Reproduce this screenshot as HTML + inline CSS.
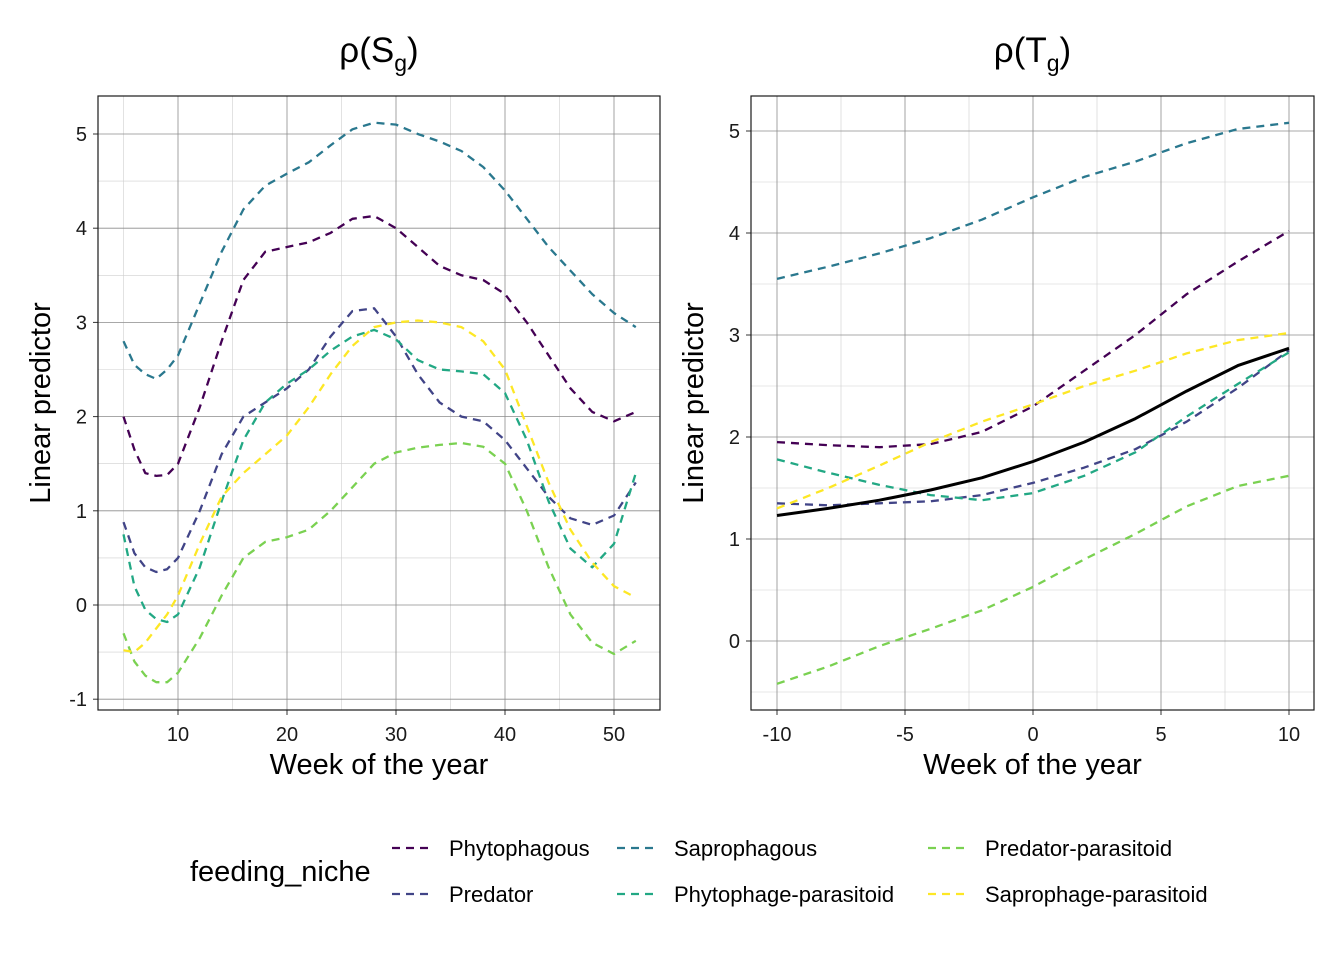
<!DOCTYPE html>
<html><head><meta charset="utf-8"><style>
html,body{margin:0;padding:0;background:#fff;}
svg{display:block;font-family:"Liberation Sans",Arial,sans-serif;}
</style></head><body>
<svg id="chart" width="1344" height="960" viewBox="0 0 1344 960"></svg>
<script>
// ---- data ----
const weeksL = [5,6,7,8,9,10,12,14,16,18,20,22,24,26,28,30,32,34,36,38,40,42,44,46,48,50,52];
const phytoL = [2.0,1.65,1.4,1.37,1.38,1.5,2.1,2.8,3.45,3.75,3.8,3.85,3.95,4.1,4.13,4.0,3.8,3.6,3.5,3.45,3.3,3.0,2.65,2.3,2.05,1.95,2.05];
const predL = [0.88,0.55,0.4,0.35,0.38,0.5,1.0,1.6,2.0,2.15,2.3,2.5,2.85,3.12,3.15,2.85,2.45,2.15,2.0,1.95,1.75,1.45,1.15,0.92,0.85,0.95,1.3];
const saproL = [2.8,2.55,2.45,2.4,2.5,2.65,3.2,3.75,4.2,4.45,4.58,4.7,4.88,5.05,5.12,5.1,5.0,4.92,4.82,4.65,4.4,4.1,3.8,3.55,3.3,3.1,2.95];
const phyParL = [0.75,0.2,-0.05,-0.15,-0.18,-0.1,0.4,1.1,1.75,2.15,2.35,2.5,2.7,2.85,2.92,2.82,2.6,2.5,2.48,2.45,2.25,1.75,1.1,0.6,0.4,0.65,1.4];
const predParL = [-0.3,-0.6,-0.75,-0.82,-0.82,-0.72,-0.35,0.1,0.5,0.67,0.72,0.8,1.0,1.25,1.5,1.62,1.67,1.7,1.72,1.68,1.5,1.0,0.4,-0.1,-0.4,-0.52,-0.38];
const saproParL = [-0.48,-0.5,-0.4,-0.25,-0.1,0.1,0.65,1.15,1.4,1.6,1.8,2.1,2.45,2.75,2.95,3.0,3.02,3.0,2.95,2.8,2.5,1.9,1.3,0.8,0.45,0.2,0.08];

const weeksR = [-10,-8,-6,-4,-2,0,2,4,6,8,10];
const saproR = [3.55,3.67,3.8,3.95,4.13,4.35,4.55,4.7,4.88,5.02,5.08];
const phytoR = [1.95,1.92,1.9,1.93,2.05,2.3,2.65,3.0,3.4,3.72,4.02];
const predR = [1.35,1.33,1.35,1.37,1.43,1.55,1.7,1.88,2.15,2.48,2.85];
const phyParR = [1.78,1.65,1.53,1.43,1.38,1.45,1.62,1.85,2.2,2.52,2.83];
const saproParR = [1.3,1.5,1.72,1.95,2.15,2.32,2.5,2.65,2.82,2.95,3.02];
const predParR = [-0.42,-0.25,-0.05,0.12,0.3,0.53,0.8,1.05,1.32,1.52,1.62];
const overallR = [1.23,1.3,1.38,1.48,1.6,1.76,1.95,2.18,2.45,2.7,2.87];

const xTicksL = [10,20,30,40,50];
const yTicksL = [-1,0,1,2,3,4,5];
const xTicksR = [-10,-5,0,5,10];
const yTicksR = [0,1,2,3,4,5];

const names = ["Phytophagous","Predator","Saprophagous","Phytophage-parasitoid","Predator-parasitoid","Saprophage-parasitoid"];
const colors = ["#440154","#414487","#2A788E","#22A884","#7AD151","#FDE725"];

const NS="http://www.w3.org/2000/svg";
const svg=document.getElementById('chart');
function mk(tag,attrs,parent){const e=document.createElementNS(NS,tag);for(const k in attrs)e.setAttribute(k,attrs[k]);(parent||svg).appendChild(e);return e;}

function panel(cfg){
  const g=mk('g',{});
  
  
  const sx=v=>cfg.x0+(v-cfg.xa)*(cfg.x1-cfg.x0)/(cfg.xb-cfg.xa);
  const sy=v=>cfg.y0+(v-cfg.ya)*(cfg.y1-cfg.y0)/(cfg.yb-cfg.ya);
  const xt=cfg.xticks, yt=cfg.yticks;
  const dx=xt[1]-xt[0], dy=yt[1]-yt[0];
  for(let v=xt[0]-dx/2; v<=xt[xt.length-1]+dx/2+1e-9; v+=dx){const p=sx(v); if(p>cfg.L&&p<cfg.R) mk('line',{x1:p,x2:p,y1:cfg.T,y2:cfg.B,stroke:'#cfcfcf','stroke-width':0.6},g);}
  for(let v=yt[0]-dy/2; v<=yt[yt.length-1]+dy/2+1e-9; v+=dy){const p=sy(v); if(p>cfg.T&&p<cfg.B) mk('line',{x1:cfg.L,x2:cfg.R,y1:p,y2:p,stroke:'#cfcfcf','stroke-width':0.6},g);}
  xt.forEach(v=>{const p=sx(v);mk('line',{x1:p,x2:p,y1:cfg.T,y2:cfg.B,stroke:'#8c8c8c','stroke-width':0.8},g);
    mk('line',{x1:p,x2:p,y1:cfg.B,y2:cfg.B+5,stroke:'#333','stroke-width':1},g);
    const t=mk('text',{x:p,y:cfg.B+31,'text-anchor':'middle','font-size':20,fill:'#1a1a1a'},g);t.textContent=v;
    
    });
  yt.forEach(v=>{const p=sy(v);mk('line',{x1:cfg.L,x2:cfg.R,y1:p,y2:p,stroke:'#8c8c8c','stroke-width':0.8},g);
    mk('line',{x1:cfg.L-5,x2:cfg.L,y1:p,y2:p,stroke:'#333','stroke-width':1},g);
    const t=mk('text',{x:cfg.L-11,y:p+7,'text-anchor':'end','font-size':20,fill:'#1a1a1a'},g);t.textContent=v;
    
    });
  cfg.series.forEach((s,i)=>{
    let d='';s.y.forEach((v,j)=>{d+=(j?'L':'M')+sx(cfg.xs[j]).toFixed(1)+','+sy(v).toFixed(1);});
    const p=mk('path',{d:d,fill:'none',stroke:s.c,'stroke-width':s.w||2.3,'stroke-dasharray':s.dash?'8,6':'none','stroke-linejoin':'round'},g);
    
    
  });
  mk('rect',{x:cfg.L,y:cfg.T,width:cfg.R-cfg.L,height:cfg.B-cfg.T,fill:'none',stroke:'#1a1a1a','stroke-width':1.2},g);
  const tt=mk('text',{x:(cfg.L+cfg.R)/2,y:62,'text-anchor':'middle','font-size':35,fill:'#000'},g);
  tt.innerHTML='ρ(<tspan>'+cfg.sym+'</tspan><tspan font-size="23" dy="9">g</tspan><tspan dy="-9">)</tspan>';
  
  
  const xl=mk('text',{x:(cfg.L+cfg.R)/2,y:774,'text-anchor':'middle','font-size':29,fill:'#000'},g);xl.textContent='Week of the year';
  
  
  const cy=(cfg.T+cfg.B)/2;
  const yl=mk('text',{x:cfg.L-48,y:cy,'text-anchor':'middle','font-size':29,fill:'#000',transform:'rotate(-90 '+(cfg.L-48)+' '+cy+')'},g);yl.textContent='Linear predictor';
  
  
}
const seriesL=[phytoL,predL,saproL,phyParL,predParL,saproParL].map((y,i)=>({y:y,c:colors[i],dash:true,n:'line-'+names[i].toLowerCase()}));
panel({name:'panel-season',L:98,R:660,T:96,B:710,xa:10,xb:50,x0:178,x1:614,ya:0,yb:5,y0:605,y1:134,xticks:xTicksL,yticks:yTicksL,xs:weeksL,series:seriesL,sym:'S'});
const seriesR=[phytoR,predR,saproR,phyParR,predParR,saproParR].map((y,i)=>({y:y,c:colors[i],dash:true,n:'line-'+names[i].toLowerCase()}));
seriesR.push({y:overallR,c:'#000',dash:false,w:3,n:'line-overall'});
panel({name:'panel-temperature',L:751,R:1314,T:96,B:710,xa:-10,xb:10,x0:777,x1:1289,ya:0,yb:5,y0:641,y1:131,xticks:xTicksR,yticks:yTicksR,xs:weeksR,series:seriesR,sym:'T'});

// legend
const lg=mk('g',{});


const lt=mk('text',{x:190,y:881,'font-size':29,fill:'#000'},lg);lt.textContent='feeding_niche';


const cols=[392,617,928], rows=[848,894];
const order=[[0,1],[2,3],[4,5]];
order.forEach((pair,c)=>pair.forEach((idx,r)=>{
  const e=mk('g',{},lg);
  
  
  mk('line',{x1:cols[c],x2:cols[c]+38,y1:rows[r],y2:rows[r],stroke:colors[idx],'stroke-width':2.3,'stroke-dasharray':'8,6'},e);
  const t=mk('text',{x:cols[c]+57,y:rows[r]+8,'font-size':22,fill:'#000'},e);t.textContent=names[idx];
}));
</script>
</body></html>
